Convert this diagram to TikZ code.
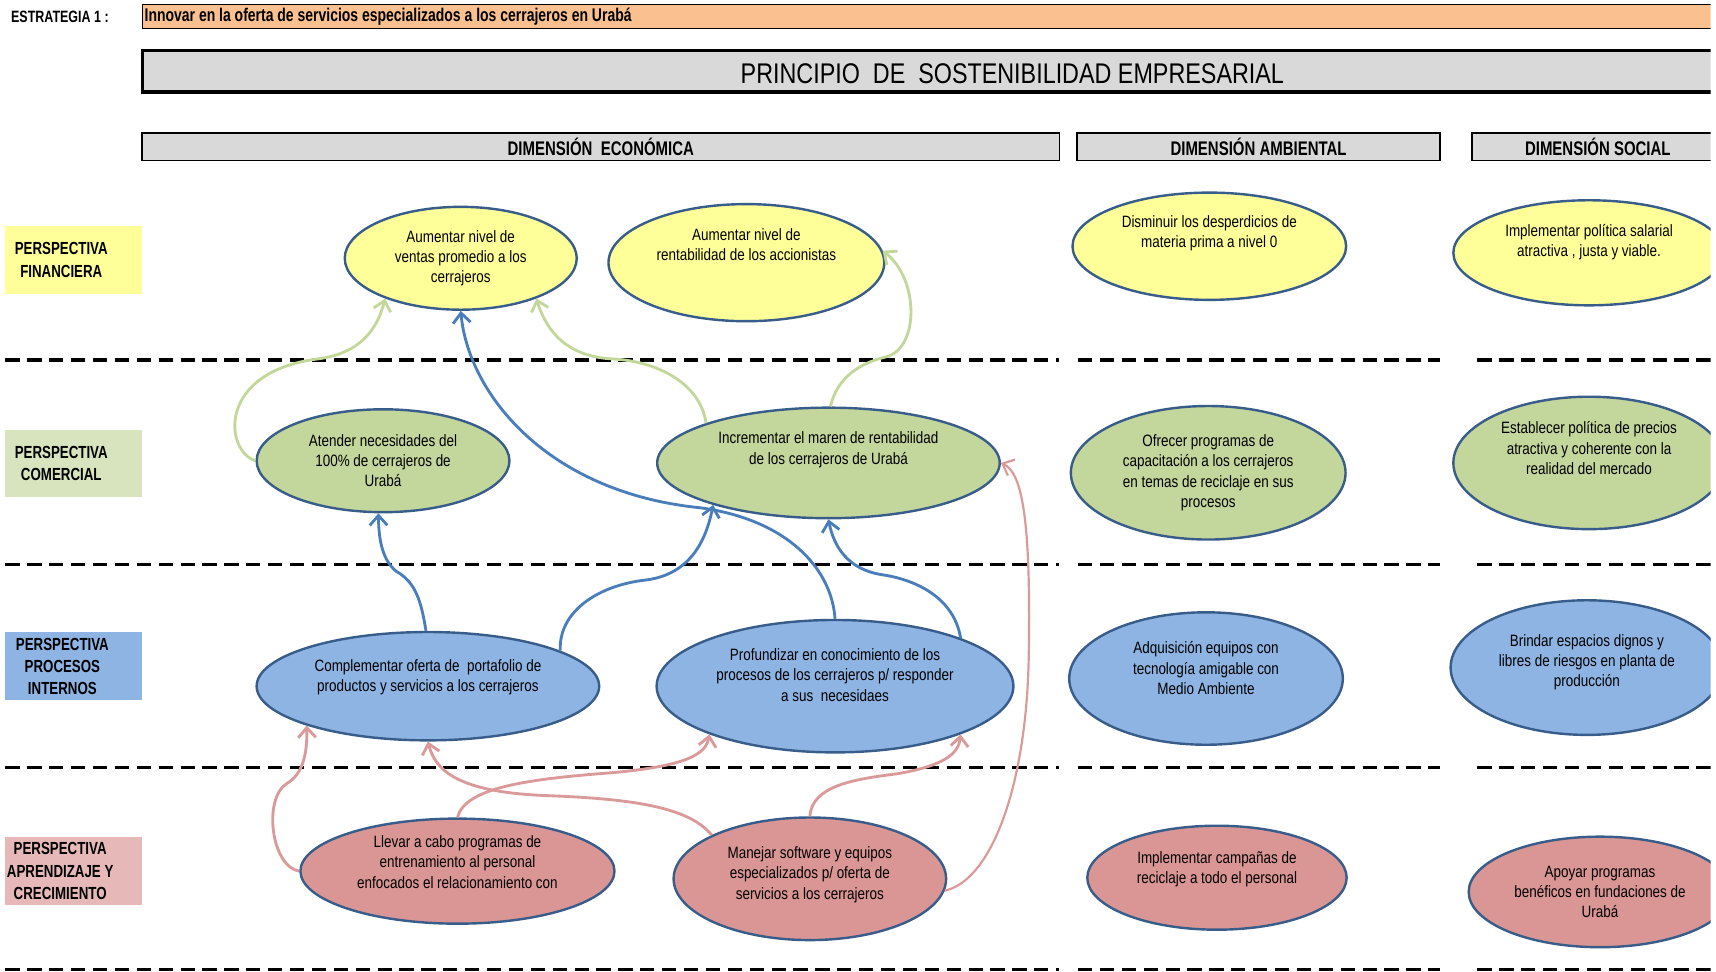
\documentclass[tikz,border=0pt]{standalone}
\usepackage{fontspec}
\setmainfont{Liberation Sans}
\newfontfamily\narrowfont[FakeStretch=0.82]{Liberation Sans}
\newfontfamily\labelfont[FakeStretch=0.76]{Liberation Sans}
\usetikzlibrary{shapes.geometric,arrows.meta}

\definecolor{finfill}{HTML}{FFFF99}
\definecolor{comfill}{HTML}{C3D69B}
\definecolor{comlab}{HTML}{D7E4BD}
\definecolor{profill}{HTML}{8EB4E3}
\definecolor{aprfill}{HTML}{D99694}
\definecolor{aprlab}{HTML}{E6B9B8}
\definecolor{objline}{HTML}{385D8A}
\definecolor{greenarr}{HTML}{C4D79B}
\definecolor{bluearr}{HTML}{4A7EBB}
\definecolor{pinkarr}{HTML}{DB9A9A}
\definecolor{headorange}{HTML}{FAC090}
\definecolor{headgray}{HTML}{D9D9D9}

\begin{document}
\begin{tikzpicture}[x=1pt,y=-1pt,
    obj/.style={ellipse,draw=objline,line width=2.2pt,inner sep=0pt,align=center,
                font=\narrowfont\fontsize{15}{18.6}\selectfont},
    lift/.style={text depth=#1},
    persp/.style={rectangle,minimum width=125pt,minimum height=62pt,inner sep=0pt},
    persptext/.style={align=center,inner sep=0pt,
                font=\labelfont\bfseries\fontsize{16}{20.5}\selectfont},
    dimbox/.style={rectangle,draw=black,line width=1.5pt,fill=headgray,
                minimum height=25pt,inner sep=0pt,
                font=\labelfont\bfseries\fontsize{18}{20}\selectfont},
    arr/.style={-{Straight Barb[length=9pt,width=16pt]},line width=2.6pt},
    sep/.style={dash pattern=on 13pt off 7pt,line width=3pt}]

  \useasboundingbox (0,0) rectangle (1568,888);
  \clip (0,0) rectangle (1563,888);

  % encabezado
  \node[anchor=west,inner sep=0pt,font=\labelfont\bfseries\fontsize{15}{17}\selectfont]
        (strat) at (10,15) {ESTRATEGIA 1 :};
  \node[rectangle,draw=black,line width=1.2pt,fill=headorange,minimum width=1436pt,
        minimum height=22pt] (bar) at (848,15) {};
  \node[anchor=west,inner sep=0pt,font=\labelfont\bfseries\fontsize{16.8}{18}\selectfont]
        (bartxt) at (132,15) {Innovar en la oferta de servicios especializados a los cerrajeros en Urabá};
  \node[rectangle,draw=black,line width=3pt,fill=headgray,minimum width=1436pt,
        minimum height=38pt] (princ) at (848,65) {};
  \node[font=\narrowfont\fontsize{26}{30}\selectfont,inner sep=0pt]
        (princtxt) at (925,67) {PRINCIPIO\ \ DE\ \ SOSTENIBILIDAD EMPRESARIAL};

  \node[dimbox,minimum width=838pt] (deco) at (549,134) {DIMENSIÓN\ \ ECONÓMICA};
  \node[dimbox,minimum width=332pt] (damb) at (1150,134) {DIMENSIÓN AMBIENTAL};
  \node[dimbox,minimum width=230pt] (dsoc) at (1460,134) {DIMENSIÓN SOCIAL};

  % perspectivas
  \node[persp,fill=finfill] (pfin) at (67.5,237.5) {};
  \node[persptext] (pfintxt) at (56,237.5) {PERSPECTIVA\\FINANCIERA};
  \node[persp,fill=comlab] (pcom) at (67.5,423.5) {};
  \node[persptext] (pcomtxt) at (56,423.5) {PERSPECTIVA\\COMERCIAL};
  \node[persp,fill=profill] (ppro) at (67.5,608.5) {};
  \node[persptext] (pprotxt) at (57,609) {PERSPECTIVA\\PROCESOS\\INTERNOS};
  \node[persp,fill=aprlab] (papr) at (67.5,795.5) {};
  \node[persptext] (paprtxt) at (55,796) {PERSPECTIVA\\APRENDIZAJE Y\\CRECIMIENTO};

  % separadores
  \foreach \y in {329,516,701,886} {
    \draw[sep] (5,\y) -- (968,\y);
    \draw[sep] (985,\y) -- (1316,\y);
    \draw[sep] (1350,\y) -- (1570,\y);
  }

  % financiera
  \node[obj,fill=finfill,minimum width=212pt,minimum height=94pt] (venta) at (421,236)
        {Aumentar nivel de\\ventas promedio a los\\cerrajeros};
  \node[obj,fill=finfill,minimum width=252pt,minimum height=107pt,lift=33pt] (accion) at (682,240)
        {Aumentar nivel de\\rentabilidad de los accionistas};
  \node[obj,fill=finfill,minimum width=250pt,minimum height=98pt,lift=27pt] (desper) at (1105,225)
        {Disminuir los desperdicios de\\materia prima a nivel 0};
  \node[obj,fill=finfill,minimum width=248pt,minimum height=96pt,lift=23pt] (salar) at (1452,231)
        {Implementar política salarial\\atractiva , justa y viable.};

  % comercial
  \node[obj,fill=comfill,minimum width=231pt,minimum height=94pt] (atender) at (350,421)
        {Atender necesidades del\\100\% de cerrajeros de\\Urabá};
  \node[obj,fill=comfill,minimum width=313pt,minimum height=101pt,lift=27pt] (margen) at (757,423)
        {Incrementar el maren de rentabilidad\\de los cerrajeros de Urabá};
  \node[obj,fill=comfill,minimum width=251pt,minimum height=122pt] (capac) at (1104,432)
        {Ofrecer programas de\\capacitación a los cerrajeros\\en temas de reciclaje en sus\\procesos};
  \node[obj,fill=comfill,minimum width=248pt,minimum height=121pt,lift=27pt] (precio) at (1452,423)
        {Establecer política de precios\\atractiva y coherente con la\\realidad del mercado};

  % procesos internos
  \node[obj,fill=profill,minimum width=313pt,minimum height=99pt,lift=19pt] (portaf) at (391,627)
        {Complementar oferta de\ \ portafolio de\\productos y servicios a los cerrajeros};
  \node[obj,fill=profill,minimum width=326pt,minimum height=121pt,lift=21pt] (conoc) at (763,627)
        {Profundizar en conocimiento de los\\procesos de los cerrajeros p/ responder\\a sus\ \ necesidaes};
  \node[obj,fill=profill,minimum width=250pt,minimum height=121pt,lift=19pt] (equipo) at (1102,620)
        {Adquisición equipos con\\tecnología amigable con\\Medio Ambiente};
  \node[obj,fill=profill,minimum width=249pt,minimum height=123pt,lift=13pt] (espac) at (1450,610)
        {Brindar espacios dignos y\\libres de riesgos en planta de\\producción};

  % aprendizaje y crecimiento
  \node[obj,fill=aprfill,minimum width=287pt,minimum height=96pt,lift=17pt] (entren) at (418,796)
        {Llevar a cabo programas de\\entrenamiento al personal\\enfocados el relacionamiento con};
  \node[obj,fill=aprfill,minimum width=249pt,minimum height=112pt,lift=11pt] (softw) at (740,803)
        {Manejar software y equipos\\especializados p/ oferta de\\servicios a los cerrajeros};
  \node[obj,fill=aprfill,minimum width=237pt,minimum height=95pt,lift=19pt] (recic) at (1112,802)
        {Implementar campañas de\\reciclaje a todo el personal};
  \node[obj,fill=aprfill,minimum width=240pt,minimum height=101pt] (benef) at (1462,815)
        {Apoyar programas\\benéficos en fundaciones de\\Urabá};

  % relaciones
  \draw[arr,greenarr] (atender.west) .. controls (205,412) and (198,340) .. (290,328)
        .. controls (330,323) and (345,300) .. (venta.208);
  \draw[arr,greenarr] (margen.162) .. controls (640,350) and (600,330) .. (560,328)
        .. controls (520,326) and (500,305) .. (venta.332);
  \draw[arr,greenarr] (margen.88) .. controls (765,345) and (785,332) .. (810,326)
        .. controls (840,318) and (840,255) .. (accion.5);

  \draw[arr,bluearr] (portaf.92) .. controls (385,550) and (380,532) .. (362,522)
        .. controls (350,512) and (346,495) .. (atender.265);
  \draw[arr,bluearr] (portaf.15) .. controls (510,560) and (545,535) .. (590,530)
        .. controls (630,525) and (645,495) .. (margen.200);
  \draw[arr,bluearr] (conoc.north) .. controls (760,520) and (720,475) .. (640,464)
        .. controls (500,450) and (428,360) .. (venta.south);
  \draw[arr,bluearr] (conoc.21) .. controls (872,548) and (840,530) .. (805,525)
        .. controls (775,520) and (762,500) .. (margen.south);

  \draw[arr,pinkarr] (entren.west) .. controls (248,792) and (240,730) .. (262,716)
        .. controls (276,708) and (281,690) .. (portaf.198);
  \draw[arr,pinkarr] (entren.north) .. controls (425,720) and (480,712) .. (560,706)
        .. controls (625,700) and (645,690) .. (conoc.201);
  \draw[arr,pinkarr] (softw.156) .. controls (630,738) and (580,730) .. (500,727)
        .. controls (420,724) and (398,705) .. (portaf.south);
  \draw[arr,pinkarr] (softw.north) .. controls (742,718) and (780,712) .. (820,707)
        .. controls (860,700) and (876,690) .. (conoc.339);
  \draw[arr,pinkarr,line width=2pt] (softw.355) .. controls (905,805) and (938,720) .. (940,600)
        .. controls (942,480) and (935,432) .. (margen.east);
\end{tikzpicture}
\end{document}
